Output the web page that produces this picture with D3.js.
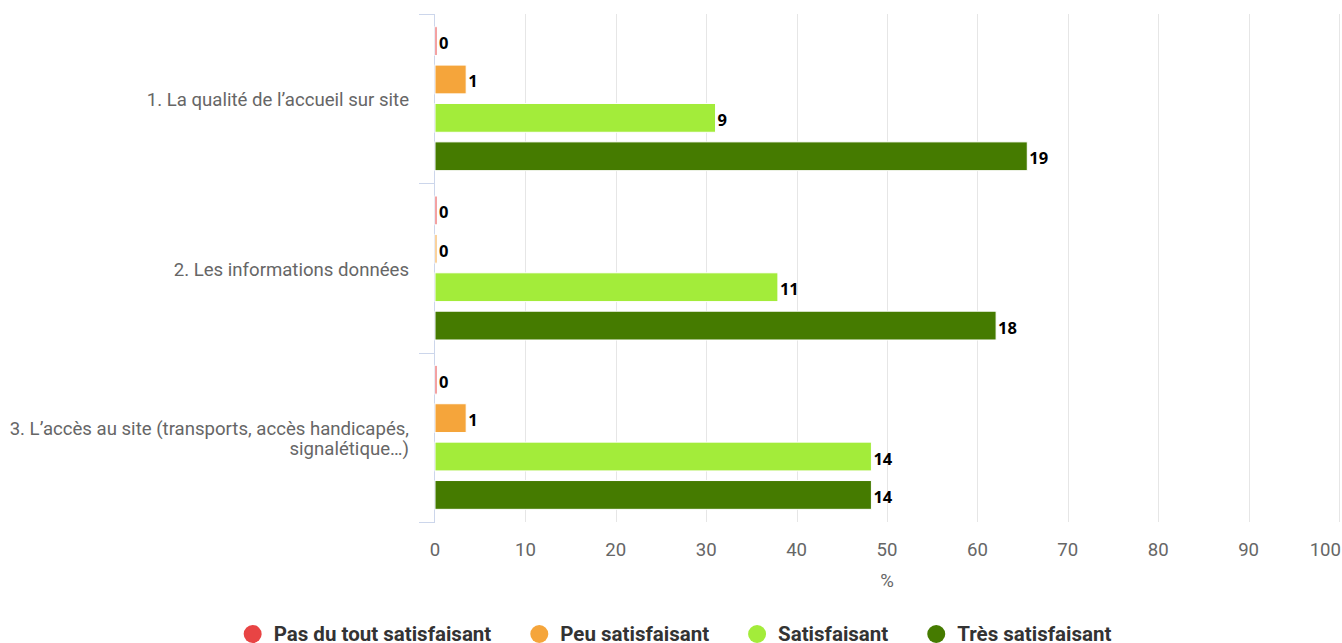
<!DOCTYPE html>
<html>
<head>
<meta charset="utf-8">
<script src="https://cdn.jsdelivr.net/npm/d3@7"></script>
<style>
  body { margin: 0; background: #fff; }
  svg { display: block; font-family: Roboto, sans-serif; }
</style>
</head>
<body>
<svg id="chart"></svg>
<script>
var categories = [
  ["1. La qualité de l’accueil sur site"],
  ["2. Les informations données"],
  ["3. L’accès au site (transports, accès handicapés,", "signalétique…)"]
];
var seriesNames = ["Pas du tout satisfaisant", "Peu satisfaisant", "Satisfaisant", "Très satisfaisant"];
var seriesColors = ["#e84444", "#f5a53b", "#a3ec3a", "#457b00"];
// nombre de réponses par catégorie, une liste par série
var counts = [
  [0, 0, 0],
  [1, 0, 1],
  [9, 11, 14],
  [19, 18, 14]
];
var xTicks = [0, 10, 20, 30, 40, 50, 60, 70, 80, 90, 100];

var W = 1342, H = 643;
var mLeft = 435, mRight = 1339, mTop = 14, mBottom = 522;

var svg = d3.select("svg#chart").attr('width', W).attr('height', H);

var totals = categories.map(function(c, i) {
  return d3.sum(counts, function(s) { return s[i]; });
});

var x = d3.scaleLinear().domain([0, 100]).range([mLeft, mRight]);
var y0 = d3.scaleBand().domain(d3.range(categories.length)).range([mTop, mBottom]);
var y1 = d3.scaleBand().domain(d3.range(seriesNames.length)).range([0, y0.bandwidth()])
  .paddingInner(0.25).paddingOuter(0.33);

// grille verticale
svg.append('g').selectAll('line').data(xTicks.slice(1)).enter()
  .append('line')
  .attr('x1', function(d) { return Math.round(x(d)) + 0.5; })
  .attr('x2', function(d) { return Math.round(x(d)) + 0.5; })
  .attr('y1', mTop).attr('y2', mBottom)
  .attr('stroke', '#e6e6e6').attr('stroke-width', 1);

// axe des catégories
svg.append('line')
  .attr('x1', mLeft - 0.5).attr('x2', mLeft - 0.5)
  .attr('y1', mTop).attr('y2', mBottom)
  .attr('stroke', '#ccd6eb');
var bounds = d3.range(categories.length + 1).map(function(i) { return mTop + i * y0.step(); });
svg.append('g').selectAll('line').data(bounds).enter()
  .append('line')
  .attr('x1', mLeft - 16).attr('x2', mLeft)
  .attr('y1', function(d) { return Math.round(d) + 0.5; })
  .attr('y2', function(d) { return Math.round(d) + 0.5; })
  .attr('stroke', '#ccd6eb');

// libellés des catégories (centrés sur la bande, 20px par ligne)
var catLabels = svg.append('g').selectAll('text').data(categories).enter()
  .append('text')
  .attr('text-anchor', 'end')
  .attr('fill', '#666')
  .style('font-size', '18.6px')
  .attr('transform', function(d, i) {
    var cy = y0(i) + y0.bandwidth() / 2;
    return 'translate(' + (mLeft - 26) + ',' + (cy + 7.5 - (d.length - 1) * 10) + ')';
  });
catLabels.selectAll('tspan').data(function(d) { return d; }).enter()
  .append('tspan')
  .attr('x', 0)
  .attr('y', function(d, j) { return j * 20; })
  .text(function(d) { return d; });

// axe des x
svg.append('g').selectAll('text').data(xTicks).enter()
  .append('text')
  .attr('x', function(d, i) { return i === xTicks.length - 1 ? W - 1 : x(d); })
  .attr('y', 556)
  .attr('text-anchor', function(d, i) { return i === xTicks.length - 1 ? 'end' : 'middle'; })
  .attr('fill', '#666')
  .style('font-size', '18.6px')
  .text(function(d) { return d; });
svg.append('text')
  .attr('x', (mLeft + mRight) / 2).attr('y', 587)
  .attr('text-anchor', 'middle')
  .attr('fill', '#666')
  .style('font-size', '18.6px')
  .text('%');

// barres
var groups = svg.append('g').selectAll('g').data(counts).enter()
  .append('g')
  .attr('fill', function(d, i) { return seriesColors[i]; });

groups.each(function(s, si) {
  var g = d3.select(this);
  g.selectAll('rect').data(s).enter()
    .append('rect')
    .attr('x', x(0))
    .attr('y', function(d, ci) { return y0(ci) + y1(si); })
    .attr('height', y1.bandwidth())
    .attr('width', function(d, ci) { return Math.max(x(d / totals[ci] * 100) - x(0), 2); })
    .attr('stroke', '#fff').attr('stroke-width', 1);
  g.selectAll('text').data(s).enter()
    .append('text')
    .attr('x', function(d, ci) { return x(0) + Math.max(x(d / totals[ci] * 100) - x(0), 2) + 2; })
    .attr('y', function(d, ci) { return y0(ci) + y1(si) + y1.bandwidth() / 2 + 8; })
    .attr('fill', '#000')
    .style('font-family', '"Noto Sans", sans-serif')
    .style('font-weight', 'bold')
    .style('font-size', '16.5px')
    .text(function(d) { return d; });
});

// légende
var legend = svg.append('g');
var lx = 0;
seriesNames.forEach(function(name, i) {
  var item = legend.append('g').attr('transform', 'translate(' + lx + ',0)');
  item.append('circle').attr('cx', 8).attr('cy', 0).attr('r', 9).attr('fill', seriesColors[i]);
  var t = item.append('text')
    .attr('x', 29).attr('y', 7)
    .attr('fill', '#333')
    .style('font-size', '20.5px')
    .style('font-weight', 'bold')
    .text(name);
  lx += 29 + t.node().getComputedTextLength() + 40;
});
var lw = lx - 40;
legend.attr('transform', 'translate(' + (678 - lw / 2) + ',634)');
</script>
</body>
</html>
